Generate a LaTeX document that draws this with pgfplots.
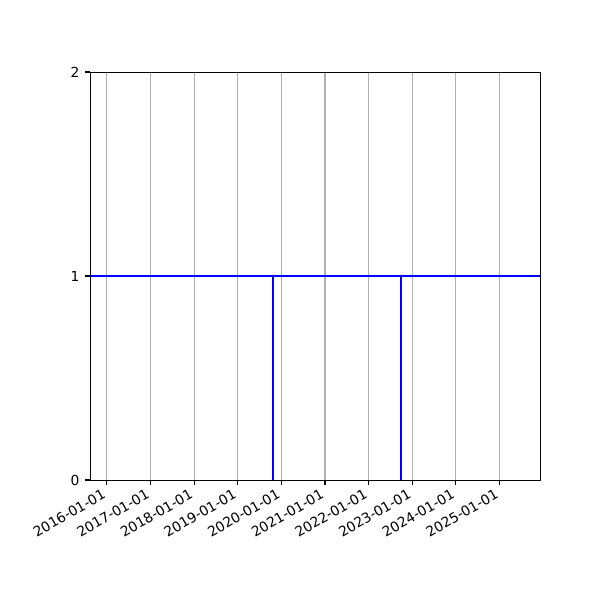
\documentclass[border=0pt]{standalone}
\usepackage{pgfplots}
\pgfplotsset{compat=1.18}
\usepackage{fontspec}
\setmainfont{DejaVu Sans}
\definecolor{gridgray}{HTML}{B0B0B0}

\begin{document}
\begin{tikzpicture}
\path[use as bounding box] (0,0) rectangle (6in,6in);
\begin{axis}[
  at={(0.9in,1.2in)}, anchor=south west,
  scale only axis, width=4.5in, height=4.08in,
  xmin=-140, xmax=3626, ymin=0, ymax=2,
  xtick={0,366,731,1096,1461,1827,2192,2557,2922,3288},
  xticklabels={2016-01-01,2017-01-01,2018-01-01,2019-01-01,2020-01-01,2021-01-01,2022-01-01,2023-01-01,2024-01-01,2025-01-01},
  ytick={0,1,2},
  xmajorgrids, grid style={gridgray, line width=0.8pt},
  tick align=outside, tick pos=left,
  major tick length=3.5pt,
  every tick/.style={black, line width=0.8pt},
  axis line style={line width=0.6pt},
  tick label style={font=\fontsize{10}{12}\selectfont},
  /pgf/number format/assume math mode=true,
  xticklabel style={xshift=-3.5pt, yshift=-1pt, rotate=30, anchor=north east, inner sep=1pt},
  yticklabel style={inner sep=1pt, xshift=-3pt},
]
\addplot[blue, line width=1.5pt, line join=miter] coordinates {
  (-140,1) (1389,1) (1389,0) (1389,1) (2465,1) (2465,0) (2465,1) (3626,1)
};
\end{axis}
\end{tikzpicture}
\end{document}
